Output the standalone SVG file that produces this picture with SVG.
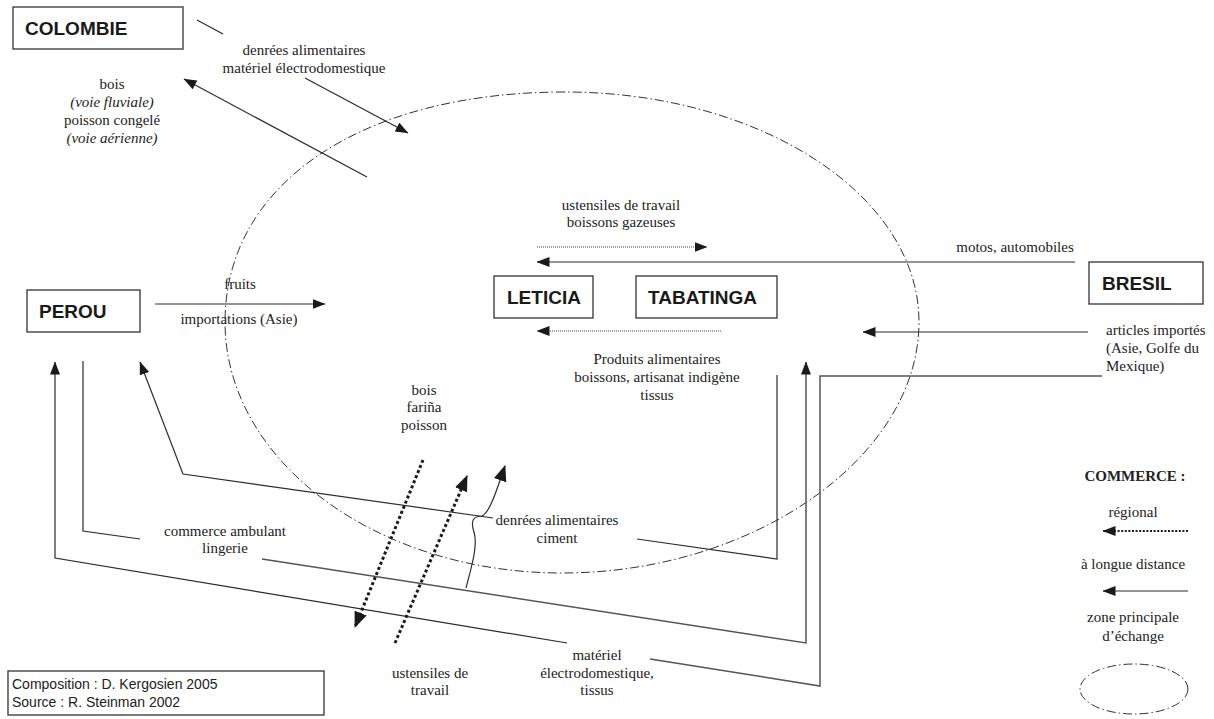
<svg xmlns="http://www.w3.org/2000/svg" width="1214" height="719" viewBox="0 0 1214 719">
<style>
.box{fill:#fff;stroke:#333;stroke-width:1.3}
.lbl{font-family:"Liberation Sans",Arial,sans-serif;font-weight:bold;font-size:19px;fill:#1a1a1a}
.t{font-family:"Liberation Serif","Times New Roman",serif;font-size:15px;fill:#222;text-anchor:middle}
.ts{text-anchor:start}
.ti{font-style:italic}
.tb{font-weight:bold}
.src{font-family:"Liberation Sans",Arial,sans-serif;font-size:14px;fill:#222}
.ln{fill:none;stroke:#2b2b2b;stroke-width:1.2}
.lg{fill:none;stroke:#555;stroke-width:1.5}
.dt{fill:none;stroke:#444;stroke-width:1;stroke-dasharray:1 1}
.dk{fill:none;stroke:#1a1a1a;stroke-width:3;stroke-dasharray:3 2.5}
.dl{fill:none;stroke:#1a1a1a;stroke-width:2.2;stroke-dasharray:2 1.6}
.zone{fill:none;stroke:#333;stroke-width:1;stroke-dasharray:9 3 1.5 3}
</style>
<defs>
<marker id="a" viewBox="0 0 13 10" refX="12.5" refY="5" markerWidth="13" markerHeight="10" markerUnits="userSpaceOnUse" orient="auto"><path d="M0,0L13,5L0,10z" fill="#1a1a1a"/></marker>
<marker id="ab" viewBox="0 0 16 13" refX="15" refY="6.5" markerWidth="16" markerHeight="13" markerUnits="userSpaceOnUse" orient="auto"><path d="M0,0L16,6.5L0,13z" fill="#1a1a1a"/></marker>
</defs>
<rect width="1214" height="719" fill="#fff"/>

<g id="zone">
<path class="zone" d="M565,92 C361,92 225,184 225,322 C225,460 375,573 562,573 C754,573 919,457 919,322 C919,195 760,92 565,92 Z"/>
</g>

<g id="connectors">
<line class="ln" x1="197" y1="20" x2="223" y2="34"/>
<line class="ln" x1="305" y1="78" x2="408" y2="133" marker-end="url(#a)"/>
<line class="ln" x1="367" y1="177" x2="184" y2="79" marker-end="url(#a)"/>
<line class="dt" x1="537" y1="247" x2="707" y2="247" marker-end="url(#a)"/>
<line class="ln" x1="1075" y1="262" x2="537" y2="262" marker-end="url(#a)"/>
<line class="dt" x1="721" y1="331" x2="537" y2="331" marker-end="url(#a)"/>
<line class="ln" x1="1088" y1="332" x2="863" y2="332" marker-end="url(#a)"/>
<line class="ln" x1="155" y1="304" x2="325" y2="304" marker-end="url(#a)"/>
<polyline class="lg" points="1102,376 820,376 820,686 650,659"/>
<polyline class="ln" points="567,643 55,558 55,362" marker-end="url(#a)"/>
<polyline class="ln" points="777,375 777,559 637,539"/>
<polyline class="ln" points="493,518 183,474 140,362" marker-end="url(#a)"/>
<polyline class="ln" points="83,361 83,531 140,539"/>
<polyline class="lg" points="262,559 806,643 806,362" marker-end="url(#a)"/>
<line class="dk" x1="423" y1="460" x2="355" y2="627" marker-end="url(#ab)"/>
<line class="dk" x1="395" y1="643" x2="467" y2="476" marker-end="url(#ab)"/>
<path class="ln" d="M466,588 C472,565 478,545 474,532 C470,520 474,516 482,516 C490,512 496,492 505,466" marker-end="url(#ab)"/>
</g>

<g id="colombie">
<rect class="box" x="13" y="7" width="170" height="42"/>
<text class="lbl" x="25" y="35">COLOMBIE</text>
</g>
<g id="leticia">
<rect class="box" x="494" y="276" width="99" height="42"/>
<text class="lbl" x="507" y="304">LETICIA</text>
</g>
<g id="tabatinga">
<rect class="box" x="636" y="276" width="141" height="42"/>
<text class="lbl" x="648" y="304">TABATINGA</text>
</g>
<g id="bresil">
<rect class="box" x="1089" y="262" width="114" height="42"/>
<text class="lbl" x="1102" y="290">BRESIL</text>
</g>
<g id="perou">
<rect class="box" x="27" y="290" width="113" height="42"/>
<text class="lbl" x="39" y="318">PEROU</text>
</g>

<g id="labels">
<text class="t" x="304" y="55">denrées alimentaires</text>
<text class="t" x="304" y="73">matériel électrodomestique</text>
<text class="t" x="112" y="89">bois</text>
<text class="t ti" x="112" y="107">(voie fluviale)</text>
<text class="t" x="112" y="125">poisson congelé</text>
<text class="t ti" x="112" y="143">(voie aérienne)</text>
<text class="t" x="621" y="210">ustensiles de travail</text>
<text class="t" x="621" y="227">boissons gazeuses</text>
<text class="t" x="1015" y="252">motos, automobiles</text>
<text class="t" x="240" y="289">fruits</text>
<text class="t" x="239" y="324">importations (Asie)</text>
<text class="t" x="657" y="364">Produits alimentaires</text>
<text class="t" x="657" y="382">boissons, artisanat indigène</text>
<text class="t" x="657" y="400">tissus</text>
<text class="t ts" x="1106" y="335">articles importés</text>
<text class="t ts" x="1106" y="353">(Asie, Golfe du</text>
<text class="t ts" x="1106" y="371">Mexique)</text>
<text class="t" x="424" y="395">bois</text>
<text class="t" x="424" y="412">fariña</text>
<text class="t" x="424" y="430">poisson</text>
<text class="t" x="557" y="525">denrées alimentaires</text>
<text class="t" x="557" y="543">ciment</text>
<text class="t" x="225" y="536">commerce ambulant</text>
<text class="t" x="225" y="553">lingerie</text>
<text class="t" x="430" y="678">ustensiles de</text>
<text class="t" x="430" y="695">travail</text>
<text class="t" x="597" y="660">matériel</text>
<text class="t" x="597" y="678">électrodomestique,</text>
<text class="t" x="597" y="695">tissus</text>
</g>

<g id="legend">
<text class="t tb" x="1135" y="481">COMMERCE :</text>
<text class="t" x="1133" y="517">régional</text>
<line class="dl" x1="1188" y1="531" x2="1103" y2="531" marker-end="url(#a)"/>
<text class="t" x="1133" y="569">à longue distance</text>
<line class="ln" x1="1188" y1="591" x2="1103" y2="591" marker-end="url(#a)"/>
<text class="t" x="1133" y="622">zone principale</text>
<text class="t" x="1133" y="641">d’échange</text>
<ellipse class="zone" cx="1134" cy="689" rx="54" ry="25"/>
</g>

<g id="source">
<rect class="box" x="8" y="671" width="316" height="44"/>
<text class="src" x="12" y="689">Composition : D. Kergosien 2005</text>
<text class="src" x="12" y="707">Source : R. Steinman 2002</text>
</g>
</svg>
